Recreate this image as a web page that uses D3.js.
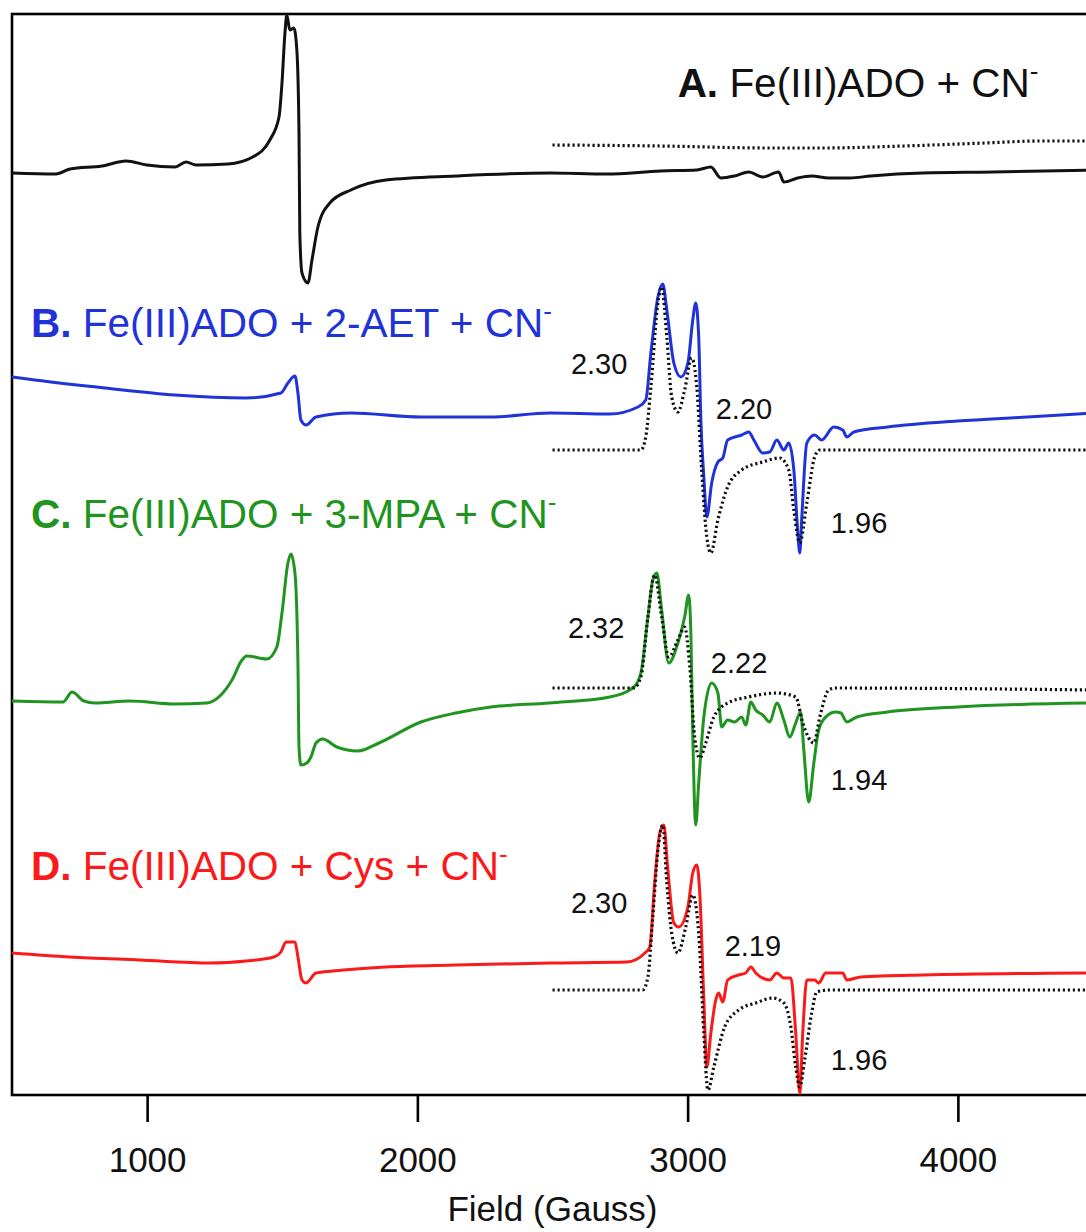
<!DOCTYPE html>
<html>
<head>
<meta charset="utf-8">
<script src="https://cdn.jsdelivr.net/npm/d3@7"></script>
<style>
  body { margin: 0; background: #fff; }
  svg { display: block; font-family: "Liberation Sans", Arial, sans-serif; }
</style>
</head>
<body>
<svg width="1086" height="1232"></svg>
<script>
// field (G) vs. stacked intensity (a.u.), each trace relative to its own baseline
const fieldTicks = [1000, 2000, 3000, 4000];

const traceA = [[500,0],[663,-1],[715,4],[833,7],[922,12],[999,8],[1103,6],[1144,11],[1181,8],[1299,9],
  [1391,16],[1454,33],[1488,56],[1499,90],[1510,140],[1517,158],[1528,143],[1543,145],[1554,123],[1562,40],
  [1565,-60],[1573,-100],[1595,-110],[1610,-87],[1632,-54],[1676,-30],[1754,-17],[1883,-7],[2142,-3],[2490,0],
  [2700,-1],[2900,2],[3034,3],[3086,6],[3123,-5],[3174,-3],[3226,1],[3278,-4],[3337,1],[3356,-9],[3407,-5],
  [3459,-3],[3522,-5],[3600,-5],[3677,-3],[3870,0],[4129,1],[4500,3]];
const simA = [[2500,0],[2900,-1],[3300,-3],[3500,-3],[3800,-1],[4100,2],[4300,4],[4500,4]];

const traceB = [[500,38],[585,35],[844,27],[1103,20],[1366,17],[1495,22],[1521,32],[1547,39],[1558,22],
  [1569,-5],[1588,-10],[1625,-2],[1754,2],[2013,-2],[2272,-2],[2490,2],[2712,1],[2816,8],[2845,15],[2864,62],
  [2890,118],[2908,131],[2923,105],[2949,52],[2975,38],[3001,52],[3019,95],[3030,112],[3041,78],[3049,-5],
  [3060,-62],[3071,-102],[3089,-68],[3112,-47],[3130,-43],[3148,-25],[3200,-20],[3226,-17],[3245,-25],
  [3278,-38],[3304,-37],[3330,-25],[3356,-35],[3374,-28],[3393,-55],[3407,-115],[3415,-138],[3422,-105],
  [3441,-28],[3470,-20],[3496,-25],[3541,-12],[3574,-15],[3589,-22],[3615,-17],[3740,-12],[3999,-6],
  [4258,-2],[4500,2]];
const simB = [[2500,0],[2827,0],[2845,13],[2864,63],[2890,147],[2904,163],[2923,113],[2941,53],[2964,38],
  [2989,60],[3015,92],[3034,63],[3052,-20],[3071,-87],[3086,-103],[3112,-70],[3148,-37],[3200,-20],
  [3278,-12],[3341,-8],[3374,-20],[3393,-60],[3415,-93],[3441,-53],[3470,-7],[3489,0],[4500,0]];

const traceC = [[500,2],[689,1],[722,11],[766,2],[807,0],[936,2],[1103,-1],[1221,0],[1273,8],[1314,23],
  [1351,43],[1369,47],[1443,44],[1480,56],[1499,90],[1521,140],[1532,149],[1547,130],[1558,40],[1562,-44],
  [1569,-62],[1591,-60],[1606,-54],[1625,-40],[1650,-36],[1702,-44],[1780,-48],[1858,-40],[2013,-19],
  [2142,-10],[2272,-4],[2490,0],[2712,6],[2801,16],[2827,30],[2853,86],[2871,123],[2886,130],[2904,93],
  [2930,40],[2964,60],[2989,86],[3004,108],[3012,70],[3019,-30],[3030,-122],[3041,-80],[3060,-14],[3089,20],
  [3112,10],[3126,-24],[3148,-17],[3174,-19],[3200,-14],[3215,-22],[3234,1],[3252,-7],[3278,-12],[3304,-19],
  [3330,0],[3356,-17],[3378,-34],[3400,-20],[3418,-9],[3430,-47],[3448,-99],[3467,-60],[3485,-27],
  [3511,-14],[3548,-9],[3567,-10],[3589,-19],[3626,-14],[3740,-9],[3999,-4],[4500,0]];
const simC = [[2500,0],[2801,0],[2827,11],[2853,71],[2878,113],[2904,71],[2930,31],[2964,48],[2989,61],
  [3008,21],[3026,-49],[3045,-70],[3067,-55],[3097,-29],[3148,-15],[3226,-9],[3330,-5],[3400,-9],
  [3426,-35],[3467,-55],[3489,-29],[3522,-2],[3548,0],[4500,-2]];

const traceD = [[500,10],[715,6],[973,3],[1236,0],[1366,2],[1469,6],[1495,11],[1514,21],[1547,21],[1558,6],
  [1573,-17],[1588,-20],[1625,-10],[1687,-8],[1883,-4],[2142,-2],[2490,0],[2775,1],[2842,10],[2860,16],
  [2878,80],[2897,130],[2912,138],[2926,96],[2949,40],[2967,36],[3001,56],[3019,90],[3034,98],[3045,70],
  [3060,-37],[3071,-104],[3086,-70],[3104,-37],[3115,-30],[3130,-39],[3148,-17],[3189,-12],[3215,-10],
  [3234,-4],[3252,-10],[3304,-17],[3330,-10],[3356,-15],[3382,-15],[3400,-70],[3415,-130],[3426,-70],
  [3441,-17],[3470,-17],[3485,-20],[3511,-10],[3574,-10],[3589,-17],[3640,-14],[3870,-12],[4500,-10]];
const simD = [[2500,0],[2834,0],[2853,13],[2871,73],[2890,140],[2908,165],[2923,107],[2941,57],[2964,37],
  [2993,63],[3019,95],[3041,57],[3060,-43],[3075,-100],[3097,-77],[3137,-37],[3189,-20],[3252,-13],
  [3315,-8],[3356,-13],[3382,-37],[3400,-77],[3415,-97],[3433,-70],[3459,-23],[3478,-2],[3522,0],[4500,0]];

const series = [
  {name: "A.", label: " Fe(III)ADO + CN", color: "#111", data: traceA, sim: simA, offset: 922, simOffset: 950,
   gLabels: []},
  {name: "B.", label: " Fe(III)ADO + 2-AET + CN", color: "#1f33d8", data: traceB, sim: simB, offset: 680, simOffset: 645,
   gLabels: [["2.30", 2568, 721], ["2.20", 3104, 676], ["1.96", 3530, 562]]},
  {name: "C.", label: " Fe(III)ADO + 3-MPA + CN", color: "#1f951f", data: traceC, sim: simC, offset: 392, simOffset: 407,
   gLabels: [["2.32", 2557, 457], ["2.22", 3086, 422], ["1.94", 3530, 305]]},
  {name: "D.", label: " Fe(III)ADO + Cys + CN", color: "#fa1a1a", data: traceD, sim: simD, offset: 132, simOffset: 105,
   gLabels: [["2.30", 2568, 182], ["2.19", 3137, 139], ["1.96", 3530, 25]]}
];
const titlePos = [[2963, 998], [570, 758], [570, 567], [570, 215]];

const svg = d3.select("svg");

const x = d3.scaleLinear().domain([500, 4500]).range([12, 1093]),
      y = d3.scaleLinear().domain([0, 1081]).range([1095, 14]);

// frame
svg.append("rect")
  .attr("x", x(500)).attr("y", y(1081))
  .attr("width", x(4500) - x(500)).attr("height", y(0) - y(1081))
  .attr("fill", "none").attr("stroke", "#000").attr("stroke-width", 2.6);

let axis = svg.append("g")
  .attr("transform", `translate(0,${y(0)})`)
  .call(d3.axisBottom(x).tickValues(fieldTicks).tickSize(27).tickPadding(25).tickFormat(d3.format("d")));
axis.select(".domain").remove();
axis.selectAll("line").attr("stroke", "#000").attr("stroke-width", 2.6);
axis.selectAll("text").attr("font-size", 35).attr("fill", "#111")
  .attr("font-family", "'Liberation Sans', Arial, sans-serif");

svg.append("text")
  .attr("x", x(2500)).attr("y", 1221)
  .attr("text-anchor", "middle").attr("font-size", 35).attr("fill", "#111")
  .text("Field (Gauss)");

series.forEach((s, i) => {
  let line = d3.line().curve(d3.curveMonotoneX)
    .x(d => x(d[0]));

  svg.append("path")
    .datum(s.data)
    .attr("d", line.y(d => y(s.offset + d[1])))
    .attr("fill", "none").attr("stroke", s.color)
    .attr("stroke-width", 3).attr("stroke-linejoin", "round");

  svg.append("path")
    .datum(s.sim)
    .attr("d", line.y(d => y(s.simOffset + d[1])))
    .attr("fill", "none").attr("stroke", "#111")
    .attr("stroke-width", 3.2).attr("stroke-dasharray", "2.2,2.8");

  let t = svg.append("text")
    .attr("x", x(titlePos[i][0])).attr("y", y(titlePos[i][1]))
    .attr("font-size", 40.5).attr("fill", s.color);
  t.append("tspan").attr("font-weight", "bold").text(s.name);
  t.append("tspan").text(s.label);
  t.append("tspan").attr("font-size", 26).attr("dy", -17).text("-");

  s.gLabels.forEach(g => {
    svg.append("text")
      .attr("x", x(g[1])).attr("y", y(g[2]))
      .attr("font-size", 29).attr("fill", "#111")
      .text(g[0]);
  });
});
</script>
</body>
</html>
